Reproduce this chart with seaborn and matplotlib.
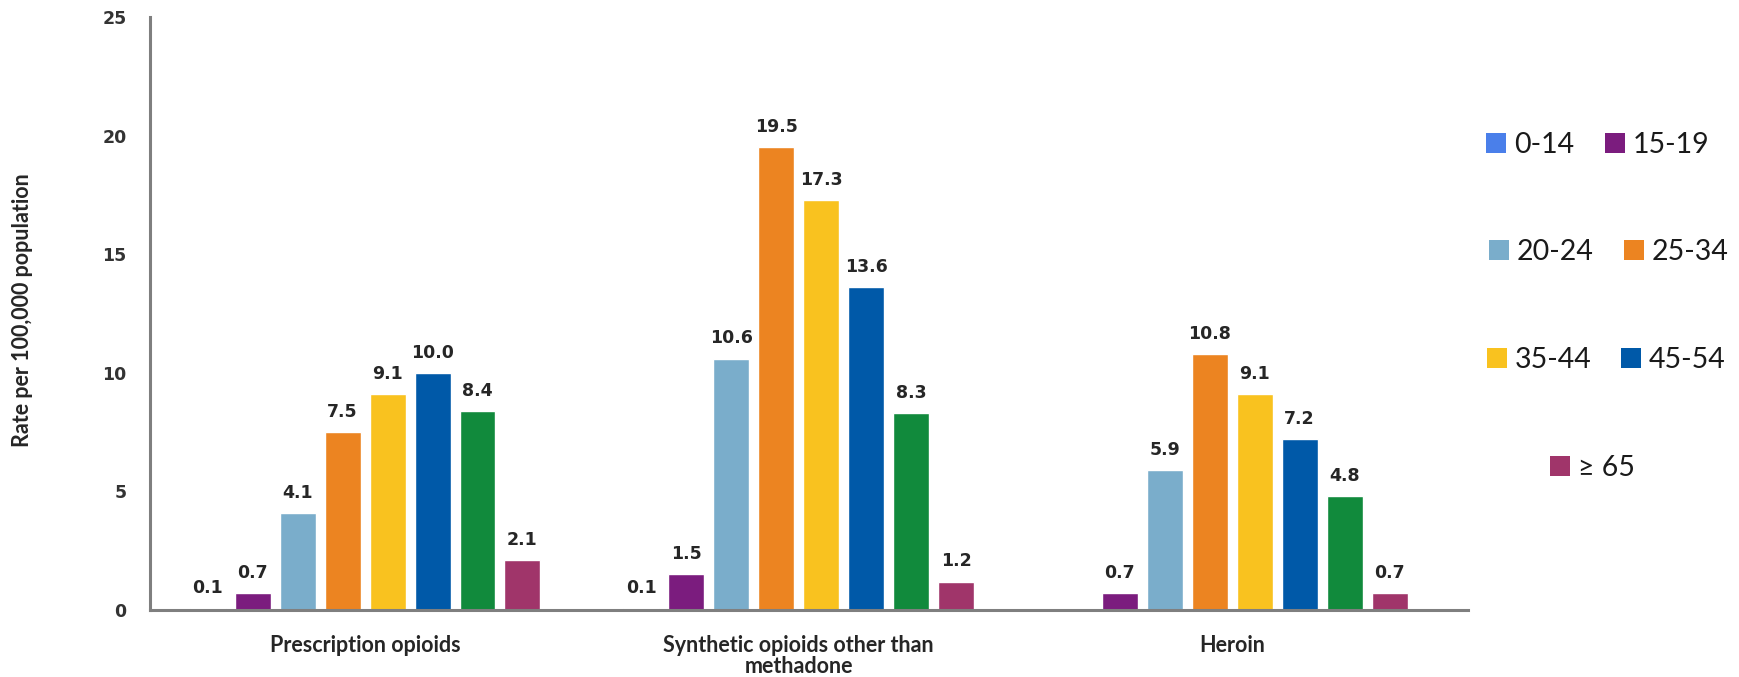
import matplotlib
matplotlib.use("Agg")
import matplotlib.pyplot as plt
import seaborn as sns
import pandas as pd
import numpy as np
from matplotlib.patches import Rectangle

# ---- data ----
categories = ["Prescription opioids", "Synthetic opioids other than\nmethadone", "Heroin"]
age_groups = ["0-14", "15-19", "20-24", "25-34", "35-44", "45-54", "55-64", "≥ 65"]
prescription = [0.1, 0.7, 4.1, 7.5, 9.1, 10.0, 8.4, 2.1]
synthetic = [0.1, 1.5, 10.6, 19.5, 17.3, 13.6, 8.3, 1.2]
heroin = [np.nan, 0.7, 5.9, 10.8, 9.1, 7.2, 4.8, 0.7]
colors = ["#4a7fea", "#7b1c7e", "#7aadcb", "#ec8421", "#f9c21f", "#0059a8", "#118a3c", "#a0356a"]
legend_groups = ["0-14", "15-19", "20-24", "25-34", "35-44", "45-54", "≥ 65"]
y_ticks = [0, 5, 10, 15, 20, 25]

rows = []
for cat, vals in zip(categories, [prescription, synthetic, heroin]):
    for ag, v in zip(age_groups, vals):
        rows.append({"category": cat, "age": ag, "rate": v})
df = pd.DataFrame(rows).dropna()

sns.set_style("white")
plt.rcParams["font.family"] = ["Lato", "DejaVu Sans"]

W, H = 1740, 677
fig = plt.figure(figsize=(W / 100, H / 100), dpi=100)
ax = fig.add_axes([150 / W, (H - 610) / H, 1318 / W, 593 / H])

palette = dict(zip(age_groups, colors))
sns.barplot(data=df, x="category", y="rate", hue="age", order=categories,
            hue_order=age_groups, palette=palette, width=0.83, gap=0.2,
            saturation=1, legend=False, ax=ax, errorbar=None)

for cont in ax.containers:
    ax.bar_label(cont, fmt="%.1f", padding=8, fontsize=12.5,
                 fontweight="bold", family="DejaVu Sans", color="#262626")

ax.set_xlim(-0.496, 2.544)
ax.set_ylim(0, 25)
ax.set_yticks(y_ticks)
ax.set_yticklabels([str(t) for t in y_ticks], fontsize=12.5, fontweight="bold",
                   family="DejaVu Sans", color="#333333")
ax.tick_params(axis="y", length=0, pad=17)
ax.tick_params(axis="x", length=0, pad=18)
for lab in ax.get_xticklabels():
    lab.set_fontsize(15.5)
    lab.set_fontweight("bold")
    lab.set_color("#262626")
    lab.set_linespacing(1.0)
ax.set_xlabel("")
ax.set_ylabel("")
fig.text(23 / W, 1 - 310 / H, "Rate per 100,000 population", rotation=90,
         ha="center", va="center", fontsize=15.5, fontweight="bold", color="#262626")

for side in ["top", "right"]:
    ax.spines[side].set_visible(False)
for side in ["left", "bottom"]:
    ax.spines[side].set_color("#7f7f7f")
    ax.spines[side].set_linewidth(2.2)

# ---- legend (manual, Excel-like layout) ----
leg_pos = {
    "0-14": (1486, 143), "15-19": (1605, 143),
    "20-24": (1489, 250), "25-34": (1624, 250),
    "35-44": (1487, 358), "45-54": (1621, 358),
    "≥ 65": (1550, 466),
}
sq = 20
for name in legend_groups:
    x0, yc = leg_pos[name]
    col = palette[name]
    fig.add_artist(Rectangle((x0 / W, 1 - (yc + sq / 2) / H), sq / W, sq / H,
                             transform=fig.transFigure, facecolor=col, edgecolor="none"))
    fig.text((x0 + sq + 8) / W, 1 - (yc + sq / 2) / H, name, ha="left", va="baseline",
             fontsize=20.5, color="#1a1a1a")

fig.savefig("out.png", dpi=100, facecolor="white")
